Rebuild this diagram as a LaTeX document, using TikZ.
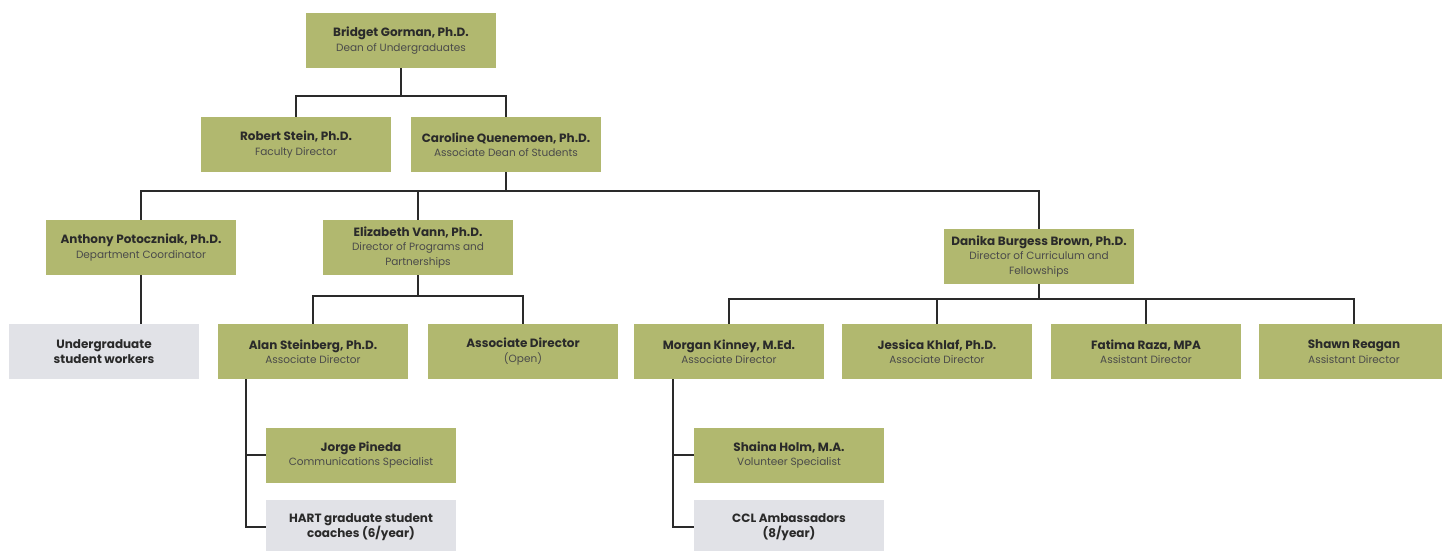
\documentclass[tikz,border=0pt]{standalone}
\usepackage{fontspec}
\setmainfont{Poppins}
\usepackage{tikz}
\usetikzlibrary{positioning}
\definecolor{olivebox}{HTML}{B1B86F}
\definecolor{greybox}{HTML}{E1E2E7}
\definecolor{inkdark}{HTML}{2A2A2A}
\definecolor{inksoft}{HTML}{4A4A4A}
\newcommand{\who}[1]{{\fontsize{12}{15}\selectfont\bfseries\color{inkdark}#1}}

\begin{document}
\begin{tikzpicture}[
  x=1pt, y=-1pt,
  staff/.style={fill=olivebox, minimum width=190pt, minimum height=55pt, inner sep=2pt,
    align=center, font=\fontsize{10.5}{14.5}\selectfont, text=inksoft},
  crew/.style={staff, fill=greybox},
  link/.style={draw=inkdark, line width=1.7pt}
]
  \useasboundingbox (0,0) rectangle (1442,550);
  % top levels
  \node[staff] (dean) at (401,40.5) {\who{Bridget Gorman, Ph.D.}\\Dean of Undergraduates};
  \node[staff] (stein) at (296,144.5) {\who{Robert Stein, Ph.D.}\\Faculty Director};
  \node[staff] (quen) at (506,144.5) {\who{Caroline Quenemoen, Ph.D.}\\Associate Dean of Students};
  % directors
  \node[staff] (poto) at (141,247.5) {\who{Anthony Potoczniak, Ph.D.}\\Department Coordinator};
  \node[staff] (vann) at (418,247.5) {\who{Elizabeth Vann, Ph.D.}\\Director of Programs and\\Partnerships};
  \node[staff] (danika) at (1039,256.5) {\who{Danika Burgess Brown, Ph.D.}\\Director of Curriculum and\\Fellowships};
  % associate and assistant directors
  \node[crew] (workers) at (104,351.5) {\who{Undergraduate}\\\who{student workers}};
  \node[staff] (alan) at (313,351.5) {\who{Alan Steinberg, Ph.D.}\\Associate Director};
  \node[staff] (open) at (523,351.5) {\who{Associate Director}\\(Open)};
  \node[staff] (morgan) at (729,351.5) {\who{Morgan Kinney, M.Ed.}\\Associate Director};
  \node[staff] (jessica) at (937,351.5) {\who{Jessica Khlaf, Ph.D.}\\Associate Director};
  \node[staff] (fatima) at (1146,351.5) {\who{Fatima Raza, MPA}\\Assistant Director};
  \node[staff] (shawn) at (1354,351.5) {\who{Shawn Reagan}\\Assistant Director};
  % specialists and students
  \node[staff] (jorge) at (361,455) {\who{Jorge Pineda}\\Communications Specialist};
  \node[crew] (hart) at (361,527) {\who{HART graduate student}\\\who{coaches (6/year)}};
  \node[staff] (shaina) at (789,455) {\who{Shaina Holm, M.A.}\\Volunteer Specialist};
  \node[crew] (ccl) at (789,527) {\who{CCL Ambassadors}\\\who{(8/year)}};

  % connector rails
  \coordinate (rail1) at (0,96);
  \coordinate (rail2) at (0,191);
  \coordinate (rail3) at (0,296);
  \coordinate (rail4) at (0,299);
  \coordinate (spineA) at (246,0);
  \coordinate (spineB) at (673,0);

  \draw[link] (dean.south) -- (dean.south |- rail1);
  \draw[link] (stein.north) |- (quen.north |- rail1) -- (quen.north);

  \draw[link] (quen.south) -- (quen.south |- rail2);
  \draw[link] (poto.north) |- (danika.north |- rail2) -- (danika.north);
  \draw[link] (vann.north) -- (vann.north |- rail2);
  \draw[link] (poto.south) -- (poto.south |- workers.north);

  \draw[link] (vann.south) -- (vann.south |- rail3);
  \draw[link] (alan.north) |- (open.north |- rail3) -- (open.north);

  \draw[link] (danika.south) -- (danika.south |- rail4);
  \draw[link] (morgan.north) |- (shawn.north |- rail4) -- (shawn.north);
  \draw[link] (jessica.north) -- (jessica.north |- rail4);
  \draw[link] (fatima.north) -- (fatima.north |- rail4);

  \draw[link] (spineA |- alan.south) |- (hart.west);
  \draw[link] (spineA |- jorge.west) -- (jorge.west);
  \draw[link] (spineB |- morgan.south) |- (ccl.west);
  \draw[link] (spineB |- shaina.west) -- (shaina.west);
\end{tikzpicture}
\end{document}
